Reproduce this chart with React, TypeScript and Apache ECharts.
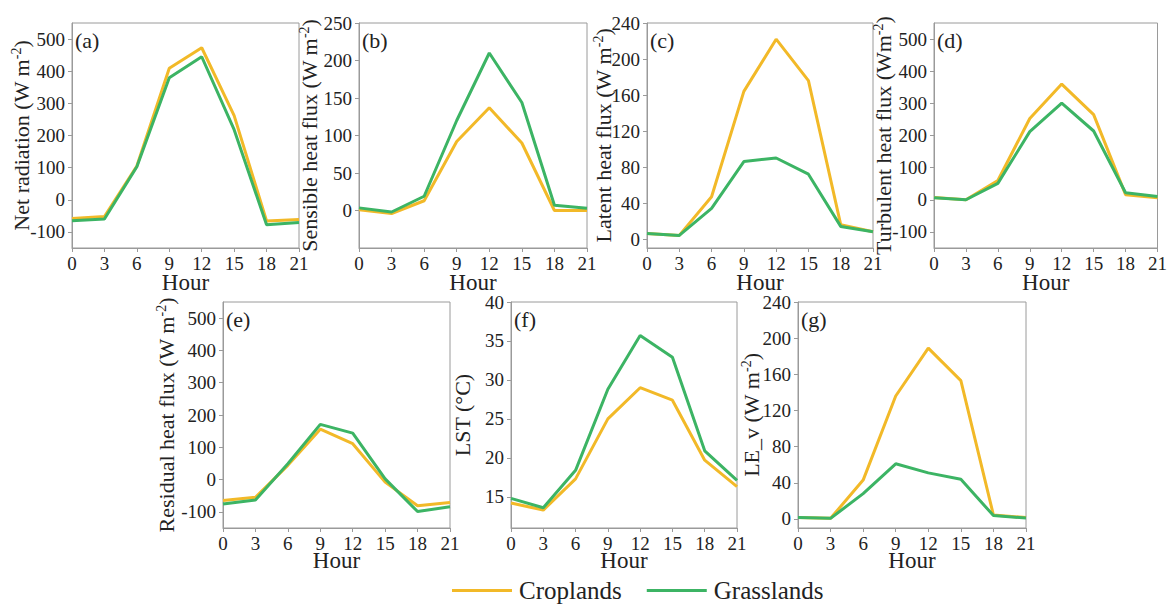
import React, { useEffect, useRef } from "react";
import * as echarts from "echarts";

// ---- data ----
const hours = [0, 3, 6, 9, 12, 15, 18, 21];
const hourTicks = [0, 3, 6, 9, 12, 15, 18, 21];

const netCrop = [-58, -52, 105, 409, 473, 262, -66, -61];
const netGrass = [-65, -60, 103, 380, 445, 218, -78, -71];

const sensCrop = [1, -4, 13, 92, 137, 90, 0, 0];
const sensGrass = [3.5, -2, 19, 120, 210, 144, 7, 3];

const latCrop = [6, 4, 47, 164, 222, 176, 16, 8];
const latGrass = [6, 4, 34, 86, 90, 72, 14, 8];

const turbCrop = [7, 0, 60, 253, 360, 265, 16, 6];
const turbGrass = [6, 0, 51, 212, 301, 214, 22, 10];

const resCrop = [-65, -55, 44, 156, 111, -8, -81, -71];
const resGrass = [-76, -63, 49, 171, 144, 2, -99, -84];

const lstCrop = [14.2, 13.3, 17.3, 25.0, 29.0, 27.4, 19.7, 16.3];
const lstGrass = [14.8, 13.6, 18.4, 28.8, 35.7, 32.9, 20.9, 17.1];

const levCrop = [1.5, 0.7, 43, 136, 189, 153, 4.4, 1.5];
const levGrass = [1.5, 0.7, 28, 61, 51, 44, 3.7, 1];

const fluxTicks = [-100, 0, 100, 200, 300, 400, 500];
const sensTicks = [0, 50, 100, 150, 200, 250];
const latTicks = [0, 40, 80, 120, 160, 200, 240];
const lstTicks = [15, 20, 25, 30, 35, 40];

const seriesNames = ["Croplands", "Grasslands"];
const colors = ["#F2B928", "#3CB464"];

// ---- layout / config ----
const FONT = "Liberation Serif, serif";

const panels = [
  { tag: "(a)", left: 72, top: 23, width: 227, height: 225, min: -150, max: 550, ticks: fluxTicks,
    name: "{n|Net radiation (W m}{s|-2}{n|)}", nameGap: 39, hourGap: 23, crop: netCrop, grass: netGrass },
  { tag: "(b)", left: 359, top: 23, width: 228, height: 225, min: -50, max: 250, ticks: sensTicks,
    name: "{n|Sensible heat flux (W m}{s|-2}{n|)}", nameGap: 38, hourGap: 23, crop: sensCrop, grass: sensGrass },
  { tag: "(c)", left: 647, top: 23, width: 226, height: 225, min: -10, max: 240, ticks: latTicks,
    name: "{n|Latent heat flux (W m}{s|-2}{n|)}", nameGap: 32, hourGap: 23, crop: latCrop, grass: latGrass },
  { tag: "(d)", left: 934, top: 23, width: 228, height: 225, min: -150, max: 550, ticks: fluxTicks,
    name: "{n|Turbulent heat flux (Wm}{s|-2}{n|)}", nameGap: 39, hourGap: 23, crop: turbCrop, grass: turbGrass },
  { tag: "(e)", left: 223, top: 302, width: 227, height: 226, min: -150, max: 550, ticks: fluxTicks,
    name: "{n|Residual heat flux (W m}{s|-2}{n|)}", nameGap: 45, hourGap: 21, crop: resCrop, grass: resGrass },
  { tag: "(f)", left: 511, top: 302, width: 226, height: 226, min: 11, max: 40, ticks: lstTicks,
    name: "{n|LST (°C)}", nameGap: 37, hourGap: 21, crop: lstCrop, grass: lstGrass },
  { tag: "(g)", left: 798, top: 302, width: 228, height: 226, min: -10, max: 240, ticks: latTicks,
    name: "{n|LE_v (W m}{s|-2}{n|)}", nameGap: 35, hourGap: 21, crop: levCrop, grass: levGrass },
];

const AXIS_COLOR = "#9a9a9a";
const TEXT_COLOR = "#222";

function buildOption() {
  const grid: any[] = [];
  const xAxis: any[] = [];
  const yAxis: any[] = [];
  const series: any[] = [];
  const graphic: any[] = [];

  panels.forEach((p, i) => {
    grid.push({
      left: p.left, top: p.top, width: p.width, height: p.height,
      show: true, borderColor: AXIS_COLOR, borderWidth: 1, backgroundColor: "transparent",
    });
    xAxis.push({
      type: "value", gridIndex: i, min: 0, max: 21, interval: 3,
      name: "Hour", nameLocation: "middle", nameGap: p.hourGap, nameMoveOverlap: false,
      nameTextStyle: { fontFamily: FONT, fontSize: 23, color: TEXT_COLOR },
      axisLine: { show: true, onZero: false, lineStyle: { color: AXIS_COLOR, width: 1 } },
      axisTick: { show: true, length: 4, lineStyle: { color: AXIS_COLOR }, customValues: hourTicks },
      axisLabel: { fontFamily: FONT, fontSize: 19, color: TEXT_COLOR, margin: 6, customValues: hourTicks },
      splitLine: { show: false },
    });
    yAxis.push({
      type: "value", gridIndex: i, min: p.min, max: p.max,
      name: p.name, nameLocation: "middle", nameGap: p.nameGap, nameRotate: 90, nameMoveOverlap: false,
      nameTextStyle: {
        fontFamily: FONT, color: TEXT_COLOR,
        rich: {
          n: { fontFamily: FONT, fontSize: 22, color: TEXT_COLOR, lineHeight: 24 },
          s: { fontFamily: FONT, fontSize: 14, color: TEXT_COLOR, verticalAlign: "top", lineHeight: 14 },
        },
      },
      axisLine: { show: true, onZero: false, lineStyle: { color: AXIS_COLOR, width: 1 } },
      axisTick: { show: true, length: 4, lineStyle: { color: AXIS_COLOR }, customValues: p.ticks },
      axisLabel: { fontFamily: FONT, fontSize: 19, color: TEXT_COLOR, margin: 7, customValues: p.ticks },
      splitLine: { show: false },
    });
    const sets = [p.crop, p.grass];
    sets.forEach((vals, k) => {
      series.push({
        type: "line", name: seriesNames[k], xAxisIndex: i, yAxisIndex: i,
        data: hours.map((h, j) => [h, vals[j]]),
        showSymbol: false, symbol: "none",
        lineStyle: { width: 3, color: colors[k] }, itemStyle: { color: colors[k] },
        z: 2 + k,
      });
    });
    graphic.push({
      type: "text", left: p.left + 3, top: p.top + 6,
      style: { text: p.tag, fontFamily: FONT, fontSize: 22, fill: TEXT_COLOR },
    });
  });

  return {
    animation: false,
    backgroundColor: "#fff",
    grid, xAxis, yAxis, series, graphic,
    legend: {
      left: 452, top: 578, padding: 0, icon: "rect", itemWidth: 60, itemHeight: 3, itemGap: 25,
      data: seriesNames,
      textStyle: { fontFamily: FONT, fontSize: 25, color: TEXT_COLOR, padding: [0, 0, 0, 2] },
    },
  };
}

export default function App() {
  const ref = useRef<HTMLDivElement>(null);
  useEffect(() => {
    if (!ref.current) return;
    const chart = echarts.init(ref.current, null, { renderer: "svg" });
    chart.setOption(buildOption() as any);
    return () => chart.dispose();
  }, []);
  return (
    <div
      ref={ref}
      style={{ position: "fixed", left: 0, top: 0, width: 1170, height: 608, background: "#fff" }}
    />
  );
}
